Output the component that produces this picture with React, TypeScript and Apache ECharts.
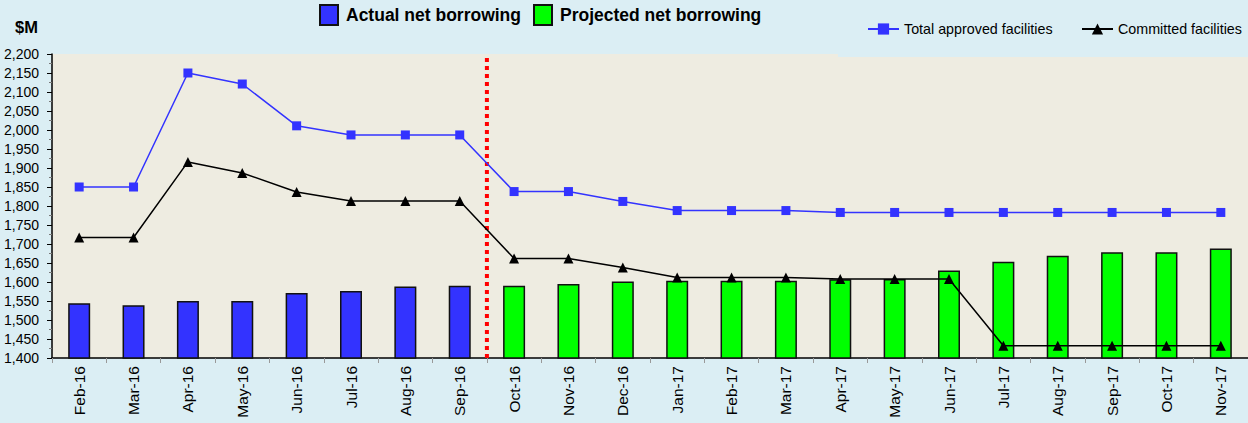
import React, { useEffect, useRef } from "react";
import * as echarts from "echarts";

const categories = [
  "Feb-16", "Mar-16", "Apr-16", "May-16", "Jun-16", "Jul-16", "Aug-16", "Sep-16",
  "Oct-16", "Nov-16", "Dec-16", "Jan-17", "Feb-17", "Mar-17", "Apr-17", "May-17",
  "Jun-17", "Jul-17", "Aug-17", "Sep-17", "Oct-17", "Nov-17",
];

const actualBorrowing = [1544, 1539, 1550, 1550, 1571, 1576, 1588, 1590,
  null, null, null, null, null, null, null, null, null, null, null, null, null, null];

const projectedBorrowing = [null, null, null, null, null, null, null, null,
  1590, 1595, 1601, 1603, 1603, 1603, 1607, 1608, 1630, 1653, 1669, 1678, 1678, 1688];

const totalApproved = [1850, 1850, 2150, 2121, 2011, 1987, 1987, 1987,
  1838, 1838, 1812, 1788, 1788, 1788, 1783, 1783, 1783, 1783, 1783, 1783, 1783, 1783];

const committed = [1717, 1717, 1916, 1887, 1837, 1813, 1813, 1813,
  1662, 1662, 1638, 1612, 1612, 1612, 1608, 1608, 1608, 1432, 1432, 1432, 1432, 1432];

const dividerPosition = 8; // boundary between Sep-16 and Oct-16
const yMin = 1400;
const yMax = 2200;
const yInterval = 50;

const FONT = "'Liberation Sans', Arial, sans-serif";
const BG = "#DBEEF4";
const PLOT_BG = "#EEECE1";

const lineLegendText = { fontFamily: FONT, fontSize: 14.3, color: "#000" };

export default function App() {
  const ref = useRef<HTMLDivElement>(null);

  useEffect(() => {
    if (!ref.current) return;
    const chart = echarts.init(ref.current, undefined, { renderer: "svg" });
    chart.setOption({
      animation: false,
      backgroundColor: BG,
      textStyle: { fontFamily: FONT },
      grid: {
        left: 52,
        top: 54,
        right: -2,
        bottom: 65,
        show: true,
        backgroundColor: PLOT_BG,
        borderWidth: 0,
      },
      legend: [
        {
          data: ["Actual net borrowing", "Projected net borrowing"],
          left: 319,
          top: 4,
          padding: 0,
          icon: "rect",
          itemWidth: 18,
          itemHeight: 20,
          itemGap: 12,
          textStyle: {
            fontFamily: FONT,
            fontWeight: "bold",
            fontSize: 17.5,
            color: "#000",
            padding: [0, 0, 0, 3],
          },
        },
        {
          data: ["Total approved facilities"],
          left: 867,
          top: 22,
          padding: 0,
          itemWidth: 31,
          itemHeight: 14,
          textStyle: lineLegendText,
        },
        {
          data: ["Committed facilities"],
          left: 1081,
          top: 22,
          padding: 0,
          itemWidth: 31,
          itemHeight: 14,
          textStyle: lineLegendText,
        },
      ],
      xAxis: [
        {
          type: "category",
          data: categories,
          boundaryGap: true,
          axisLine: { lineStyle: { color: "#000", width: 1.5 } },
          axisTick: { show: true, length: 5, lineStyle: { color: "#999" } },
          axisLabel: {
            rotate: 90,
            fontFamily: FONT,
            fontSize: 15.5,
            color: "#000",
            margin: 8,
            interval: 0,
          },
          splitLine: { show: false },
        },
        {
          type: "value",
          min: 0,
          max: categories.length,
          show: false,
        },
      ],
      yAxis: {
        type: "value",
        min: yMin,
        max: yMax,
        interval: yInterval,
        axisLine: { show: true, lineStyle: { color: "#000", width: 1.5 } },
        axisTick: { show: true, length: 5, lineStyle: { color: "#000" } },
        minorTick: { show: true, splitNumber: 2, length: 3, lineStyle: { color: "#777" } },
        axisLabel: {
          fontFamily: FONT,
          fontSize: 14,
          color: "#000",
          margin: 13,
          formatter: (v: number) => v.toLocaleString("en-US"),
        },
        splitLine: { show: false },
      },
      series: [
        {
          name: "Actual net borrowing",
          type: "bar",
          data: actualBorrowing,
          barWidth: 22,
          barGap: "-100%",
          itemStyle: { color: "#3333FF", borderColor: "#111", borderWidth: 1.5 },
        },
        {
          name: "Projected net borrowing",
          type: "bar",
          data: projectedBorrowing,
          barWidth: 22,
          barGap: "-100%",
          itemStyle: { color: "#00FF00", borderColor: "#111", borderWidth: 1.5 },
        },
        {
          name: "Total approved facilities",
          type: "line",
          data: totalApproved,
          symbol: "rect",
          symbolSize: 9,
          lineStyle: { color: "#3333FF", width: 1.5 },
          itemStyle: { color: "#3333FF" },
          z: 3,
        },
        {
          name: "Committed facilities",
          type: "line",
          data: committed,
          symbol: "triangle",
          symbolSize: 10,
          lineStyle: { color: "#000", width: 1.5 },
          itemStyle: { color: "#000" },
          z: 4,
        },
        {
          name: "divider",
          type: "line",
          xAxisIndex: 1,
          data: [[dividerPosition, yMin], [dividerPosition, yMax]],
          symbol: "none",
          lineStyle: { color: "#FF0000", width: 4, type: [4, 4], cap: "butt" },
          z: 2,
          silent: true,
        },
      ],
      graphic: [
        {
          type: "rect",
          left: 838,
          top: 0,
          shape: { width: 410, height: 57 },
          style: { fill: BG },
          z: 1,
        },
        {
          type: "text",
          left: 15,
          top: 18,
          style: { text: "$M", font: `bold 16.5px ${FONT}`, fill: "#000" },
        },
      ],
    });
    return () => chart.dispose();
  }, []);

  return (
    <div
      ref={ref}
      style={{ position: "fixed", left: 0, top: 0, width: 1248, height: 423 }}
    />
  );
}
